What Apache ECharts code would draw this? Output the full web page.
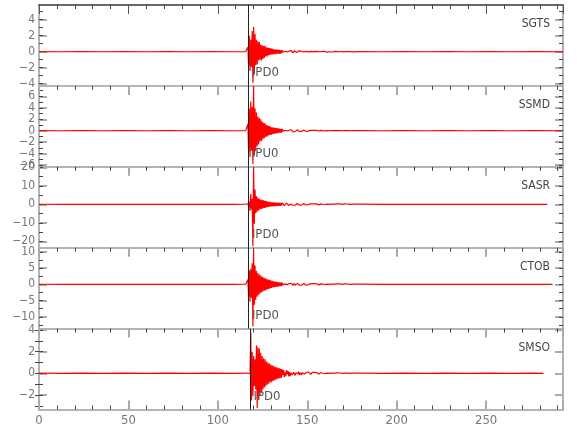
<!DOCTYPE html>
<html>
<head>
<meta charset="utf-8">
<script src="https://cdn.jsdelivr.net/npm/echarts@6/dist/echarts.min.js"></script>
<style>html,body{margin:0;padding:0;background:#fff}#c{width:580px;height:440px}</style>
</head>
<body>
<div id="c"></div>
<script>
// ---------- data ----------
const stations = ['SGTS', 'SSMD', 'SASR', 'CTOB', 'SMSO'];
const pickNames = ['IPD0', 'IPU0', 'IPD0', 'IPD0', 'IPD0'];
const pickTimes = [117.1, 117.1, 117.1, 117.1, 118.0];
const endTimes = [293, 292.2, 284.2, 287.2, 282.1];
const xMax = 293;
const xTickStep = 50;

const yMins = [-4.28, -6.31, -23.46, -13.63, -3.34];
const yMaxs = [5.84, 7.83, 20.27, 11.26, 4.13];
const yLabelVals = [
  [-4, -2, 0, 2, 4],
  [-6, -4, -2, 0, 2, 4, 6],
  [-20, -10, 0, 10, 20],
  [-10, -5, 0, 5, 10],
  [-2, 0, 2, 4]
];
const yMinorVals = [
  [-4, -3, -2, -1, 0, 1, 2, 3, 4, 5],
  [-6, -5, -4, -3, -2, -1, 0, 1, 2, 3, 4, 5, 6, 7],
  [-20, -15, -10, -5, 0, 5, 10, 15, 20],
  [-12.5, -10, -7.5, -5, -2.5, 0, 2.5, 5, 7.5, 10],
  [-3, -2, -1, 0, 1, 2, 3, 4]
];

// quiet pre-event samples
const preTimes = [0, 12, 24, 36, 48, 60, 72, 84, 96, 108, 115.6];
const preSGTS = [0.01, -0.01, 0.01, -0.01, 0.01, -0.01, 0.01, -0.01, 0.01, -0.01, 0.01];
const preSSMD = [0.01, -0.01, 0.01, -0.01, 0.01, -0.01, 0.01, -0.01, 0.01, -0.01, 0.01];
const preSASR = [0.04, -0.04, 0.04, -0.04, 0.04, -0.04, 0.04, -0.04, 0.04, -0.04, 0.04];
const preCTOB = [0.02, -0.02, 0.02, -0.02, 0.02, -0.02, 0.02, -0.02, 0.02, -0.02, 0.02];
const preSMSO = [0.01, -0.01, 0.01, -0.01, 0.01, -0.01, 0.01, -0.01, 0.01, -0.01, 0.01];

// event window: samples from winStart every winStep seconds
const winStart = 116.0;
const winStep = 0.4;
const evSGTS = [
  0.01,-0.03,0.6,-1.8,2.0,-2.4,1.5,-1.9,2.6,-3.9,
  3.1,-2.8,2.2,-1.7,1.5,-1.6,1.3,-1.1,1.2,-1.0,
  0.9,-1.1,0.8,-0.9,0.7,-0.8,0.75,-0.6,0.55,-0.6,
  0.5,-0.45,0.5,-0.4,0.42,-0.35,0.38,-0.33,0.3,-0.32,
  0.28,-0.3,0.26,-0.25,0.27,-0.24,0.22,-0.25,0.2,-0.22,
  0.2,-0.08,0.15,-0.22,0.05,-0.14,0.19,-0.03,0.12,-0.17,
  0.09,-0.16,0.02,0.13,-0.1,-0.15,0.07,0.11,-0.13,0.04,
  -0.09,0.12,-0.02,0.1,-0.12,0.03,0.08,-0.1,0.06,-0.04,
  0.1,-0.07,0.02,-0.1,0.08,0.01,-0.06,0.09,-0.03,0.05,
  -0.08,0.04,0.07,-0.05,-0.02,0.06,-0.07,0.03,0.05,-0.04,
  0.02,-0.06,0.05,-0.01,0.04,-0.05,0.03,0.01,-0.04,0.05,
  -0.02,0.03,-0.05,0.02,0.04,-0.03,-0.01,0.04,-0.04,0.02,
  0.03,-0.02,0.01,-0.04,0.03,0.02,-0.03,0.01,0.03,-0.02,
  -0.01,0.03,-0.03,0.02,-0.01,0.02,-0.02,0.03,-0.01,0.01,
  0.02,-0.02,0.01,0.01,-0.02,0.02,-0.01,0.01,-0.02,0.01
];
const evSSMD = [
  0.01,-0.03,1.2,-3.7,3.9,-4.6,5.1,-3.5,4.2,-5.8,
  7.8,-4.3,3.9,-3.6,3.2,-2.7,2.5,-2.4,2.2,-1.9,
  2.0,-1.8,1.6,-1.5,1.4,-1.3,1.3,-1.1,1.0,-1.0,
  0.9,-0.85,0.8,-0.75,0.7,-0.68,0.6,-0.6,0.55,-0.5,
  0.5,-0.48,0.45,-0.42,0.4,-0.38,0.36,-0.35,0.33,-0.32,
  0.3,-0.12,0.22,-0.28,0.08,-0.2,0.25,-0.05,0.16,-0.22,
  0.12,-0.2,0.03,0.17,-0.14,-0.19,0.1,0.15,-0.16,0.05,
  -0.12,0.15,-0.03,0.13,-0.14,0.04,0.1,-0.13,0.08,-0.05,
  0.12,-0.09,0.03,-0.11,0.09,0.01,-0.08,0.1,-0.04,0.06,
  -0.09,0.05,0.08,-0.06,-0.02,0.07,-0.08,0.03,0.06,-0.05,
  0.03,-0.06,0.05,-0.02,0.05,-0.05,0.03,0.01,-0.05,0.05,
  -0.02,0.04,-0.05,0.02,0.04,-0.04,-0.01,0.04,-0.04,0.02,
  0.03,-0.03,0.01,-0.04,0.03,0.02,-0.03,0.02,0.03,-0.02,
  -0.02,0.03,-0.03,0.02,-0.01,0.03,-0.02,0.03,-0.01,0.02,
  0.02,-0.03,0.01,0.02,-0.02,0.02,-0.01,0.02,-0.02,0.01
];
const evSASR = [
  0.05,-0.1,0.3,-1.2,1.5,-3.6,5.5,-2.8,3.0,-22.7,
  20.0,-10.5,8.0,-4.8,4.5,-4.0,3.5,-3.3,3.0,-2.8,
  2.6,-2.5,2.4,-2.2,2.1,-2.0,1.9,-1.8,1.7,-1.6,
  1.5,-1.4,1.35,-1.3,1.2,-1.2,1.1,-1.1,1.05,-1.0,
  0.95,-0.95,0.9,-0.88,0.85,-0.8,0.8,-0.78,0.75,-0.72,
  0.7,-0.3,0.55,-0.68,0.2,-0.5,0.62,-0.15,0.4,-0.58,
  0.3,-0.55,0.1,0.48,-0.35,-0.52,0.25,0.45,-0.47,0.12,
  -0.3,0.44,-0.1,0.38,-0.42,0.12,0.3,-0.4,0.22,-0.15,
  0.38,-0.28,0.08,-0.36,0.3,0.05,-0.25,0.35,-0.12,0.2,
  -0.34,0.15,0.3,-0.2,-0.08,0.28,-0.32,0.1,0.25,-0.18,
  0.1,-0.3,0.26,-0.05,0.2,-0.28,0.12,0.04,-0.22,0.27,
  -0.1,0.18,-0.28,0.08,0.22,-0.2,-0.05,0.25,-0.24,0.1,
  0.2,-0.12,0.05,-0.26,0.18,0.1,-0.2,0.06,0.22,-0.14,
  -0.06,0.2,-0.22,0.12,-0.04,0.18,-0.15,0.24,-0.08,0.1,
  0.16,-0.2,0.06,0.12,-0.18,0.2,-0.08,0.1,-0.2,0.05
];
const evCTOB = [
  0.02,-0.05,1.5,-3.9,4.3,-5.4,4.8,-4.2,6.5,-13.0,
  10.6,-6.4,5.8,-4.8,4.2,-3.8,3.5,-3.3,3.0,-2.8,
  2.7,-2.5,2.4,-2.2,2.1,-2.0,1.9,-1.8,1.7,-1.6,
  1.5,-1.4,1.35,-1.25,1.2,-1.1,1.05,-1.0,0.95,-0.9,
  0.85,-0.82,0.78,-0.74,0.7,-0.66,0.62,-0.6,0.57,-0.55,
  0.53,-0.2,0.4,-0.5,0.14,-0.38,0.45,-0.1,0.3,-0.42,
  0.22,-0.38,0.06,0.33,-0.25,-0.36,0.16,0.3,-0.32,0.08,
  -0.2,0.3,-0.06,0.26,-0.29,0.08,0.2,-0.27,0.15,-0.1,
  0.25,-0.18,0.05,-0.24,0.2,0.03,-0.16,0.23,-0.08,0.13,
  -0.22,0.1,0.19,-0.13,-0.05,0.18,-0.2,0.07,0.16,-0.12,
  0.06,-0.18,0.17,-0.03,0.13,-0.17,0.08,0.03,-0.14,0.17,
  -0.06,0.12,-0.17,0.05,0.14,-0.13,-0.03,0.16,-0.15,0.06,
  0.12,-0.08,0.03,-0.16,0.11,0.06,-0.12,0.04,0.14,-0.09,
  -0.04,0.13,-0.14,0.08,-0.03,0.11,-0.1,0.14,-0.05,0.06,
  0.1,-0.13,0.04,0.08,-0.11,0.12,-0.05,0.07,-0.12,0.03
];
const evSMSO = [
  0.01,-0.01,0.01,-0.02,0.02,-0.03,3.8,-2.5,2.0,-2.1,
  1.6,-1.2,1.3,-1.5,2.6,-3.2,2.4,-2.4,2.3,-2.0,
  1.9,-1.8,1.6,-1.5,1.4,-1.3,1.3,-1.2,1.1,-1.05,
  1.0,-0.95,0.9,-0.85,0.82,-0.8,0.75,-0.7,0.68,-0.65,
  0.6,-0.58,0.55,-0.52,0.5,-0.48,0.46,-0.44,0.42,-0.4,
  0.38,-0.15,0.3,-0.35,0.1,-0.26,0.3,-0.06,0.2,-0.28,
  0.14,-0.25,0.04,0.22,-0.16,-0.22,0.1,0.19,-0.19,0.05,
  -0.12,0.17,-0.04,0.15,-0.16,0.05,0.12,-0.14,0.09,-0.06,
  0.13,-0.1,0.03,-0.12,0.1,0.02,-0.08,0.11,-0.04,0.06,
  -0.1,0.05,0.09,-0.06,-0.02,0.08,-0.08,0.03,0.07,-0.05,
  0.03,-0.07,0.06,-0.01,0.05,-0.06,0.03,0.01,-0.05,0.06,
  -0.02,0.04,-0.06,0.02,0.05,-0.04,-0.01,0.05,-0.04,0.02,
  0.04,-0.02,0.01,-0.05,0.03,0.02,-0.04,0.01,0.04,-0.02,
  -0.01,0.03,-0.04,0.02,-0.01,0.03,-0.02,0.03,-0.01,0.02,
  0.02,-0.03,0.01,0.02,-0.02,0.02,-0.01,0.02,-0.02,0.01
];

// quiet post-event samples (last one lands on each trace's end time)
const postTimes = [180, 192, 204, 216, 228, 240, 252, 264, 276];
const postSGTS = [0.01, -0.01, 0.01, -0.01, 0.01, -0.01, 0.01, -0.01, 0.01, -0.01];
const postSSMD = [0.01, -0.01, 0.01, -0.01, 0.01, -0.01, 0.01, -0.01, 0.01, -0.01];
const postSASR = [0.05, -0.05, 0.04, -0.04, 0.04, -0.04, 0.04, -0.04, 0.04, -0.04];
const postCTOB = [0.03, -0.03, 0.02, -0.02, 0.02, -0.02, 0.02, -0.02, 0.02, -0.02];
const postSMSO = [0.01, -0.01, 0.01, -0.01, 0.01, -0.01, 0.01, -0.01, 0.01, -0.01];

const preVals = [preSGTS, preSSMD, preSASR, preCTOB, preSMSO];
const evVals = [evSGTS, evSSMD, evSASR, evCTOB, evSMSO];
const postVals = [postSGTS, postSSMD, postSASR, postCTOB, postSMSO];

// ---------- layout / style ----------
const FONT = "'Liberation Sans Narrow', 'DejaVu Sans Condensed', 'Liberation Sans', sans-serif";
const gridLeft = 39, gridRight = 17, gridTop0 = 5, panelH = 80.9;
const lightGray = '#b4b4b4';
const fmtMinus = v => String(v).replace('-', '\u2212');

function buildTrace(k) {
  const pts = [];
  preTimes.forEach((t, i) => pts.push([t, preVals[k][i]]));
  evVals[k].forEach((v, i) => pts.push([+(winStart + i * winStep).toFixed(2), v]));
  const pt = postTimes.concat([endTimes[k]]);
  pt.forEach((t, i) => pts.push([t, postVals[k][i]]));
  return pts;
}

function yLabelStyle(vals) {
  return {show: true, customValues: vals, showMinLabel: true, showMaxLabel: true, hideOverlap: false,
    formatter: fmtMinus, color: '#777', fontSize: 12, fontFamily: FONT, margin: 4};
}

const grids = [], xAxes = [], yAxes = [], series = [], titles = [];
stations.forEach((name, k) => {
  const top = gridTop0 + k * panelH;
  grids.push({left: gridLeft, right: gridRight, top: top, height: panelH, containLabel: false});
  const frameColor = k === 0 ? '#666' : lightGray;
  xAxes.push({
    gridIndex: k, type: 'value', min: 0, max: xMax, interval: xTickStep, position: 'top',
    axisLine: {show: true, onZero: false, lineStyle: {color: frameColor, width: 2}},
    axisTick: {show: true, inside: true, length: 9, lineStyle: {color: k === 0 ? '#555' : '#aaa', width: k === 0 ? 1 : 2}},
    minorTick: {show: true, splitNumber: 5, length: 4, lineStyle: {color: '#444', width: 1}},
    axisLabel: {show: false}, splitLine: {show: false}, minorSplitLine: {show: false}
  });
  const base = {gridIndex: k, type: 'value', min: yMins[k], max: yMaxs[k], splitLine: {show: false}};
  // labels split over two left axes so close neighbours are never dropped
  const labA = yLabelVals[k].filter((v, i) => i % 2 === 0);
  const labB = yLabelVals[k].filter((v, i) => i % 2 === 1);
  // left major + labels (set A)
  yAxes.push(Object.assign({}, base, {
    position: 'left',
    axisLine: {show: true, onZero: false, lineStyle: {color: lightGray, width: 2}},
    axisTick: {show: true, inside: true, length: 8, customValues: yLabelVals[k], lineStyle: {color: '#aaa', width: 2}},
    axisLabel: yLabelStyle(labA)
  }));
  // left minor ticks + labels (set B)
  yAxes.push(Object.assign({}, base, {
    position: 'left',
    axisLine: {show: false},
    axisTick: {show: true, inside: true, length: 4, customValues: yMinorVals[k], lineStyle: {color: '#444', width: 1}},
    axisLabel: yLabelStyle(labB)
  }));
  // right major
  yAxes.push(Object.assign({}, base, {
    position: 'right',
    axisLine: {show: true, onZero: false, lineStyle: {color: '#999', width: 1.5}},
    axisTick: {show: true, inside: true, length: 8, customValues: yLabelVals[k], lineStyle: {color: '#aaa', width: 2}},
    axisLabel: {show: false}
  }));
  // right minor
  yAxes.push(Object.assign({}, base, {
    position: 'right',
    axisLine: {show: false},
    axisTick: {show: true, inside: true, length: 4, customValues: yMinorVals[k], lineStyle: {color: '#444', width: 1}},
    axisLabel: {show: false}
  }));

  series.push({
    name: name, type: 'line', xAxisIndex: k, yAxisIndex: 4 * k,
    data: buildTrace(k), showSymbol: false, animation: false, silent: true,
    lineStyle: {color: '#ff0000', width: 1.2},
    markLine: {
      silent: true, symbol: 'none', animation: false,
      label: {show: false},
      lineStyle: {color: '#222', width: 1, type: 'solid'},
      data: [{xAxis: pickTimes[k]}]
    },
    markPoint: {
      silent: true, animation: false, symbol: 'circle', symbolSize: 1,
      itemStyle: {color: 'rgba(0,0,0,0)'},
      label: {show: true, position: 'right', distance: 3, formatter: pickNames[k], color: '#555', fontSize: 13, fontFamily: FONT},
      data: [{coord: [pickTimes[k], yMins[k] + 0.16 * (yMaxs[k] - yMins[k])]}]
    }
  });

  titles.push({
    text: name, right: 30, top: top + 13, padding: 0,
    textStyle: {fontSize: 12, fontWeight: 'normal', color: '#444', fontFamily: FONT}
  });
});

// bottom labelled x axis on last panel
xAxes.push({
  gridIndex: 4, type: 'value', min: 0, max: xMax, interval: xTickStep, position: 'bottom',
  axisLine: {show: true, onZero: false, lineStyle: {color: lightGray, width: 2}},
  axisTick: {show: true, inside: true, length: 9, lineStyle: {color: '#aaa', width: 2}},
  minorTick: {show: true, splitNumber: 5, length: 4, lineStyle: {color: '#444', width: 1}},
  axisLabel: {show: true, showMaxLabel: false, color: '#777', fontSize: 13, fontFamily: FONT, margin: 5},
  splitLine: {show: false}, minorSplitLine: {show: false}
});

const chart = echarts.init(document.getElementById('c'), null, {renderer: 'canvas'});
chart.setOption({
  animation: false,
  backgroundColor: '#fff',
  title: titles,
  grid: grids,
  xAxis: xAxes,
  yAxis: yAxes,
  series: series
});
</script>
</body>
</html>
